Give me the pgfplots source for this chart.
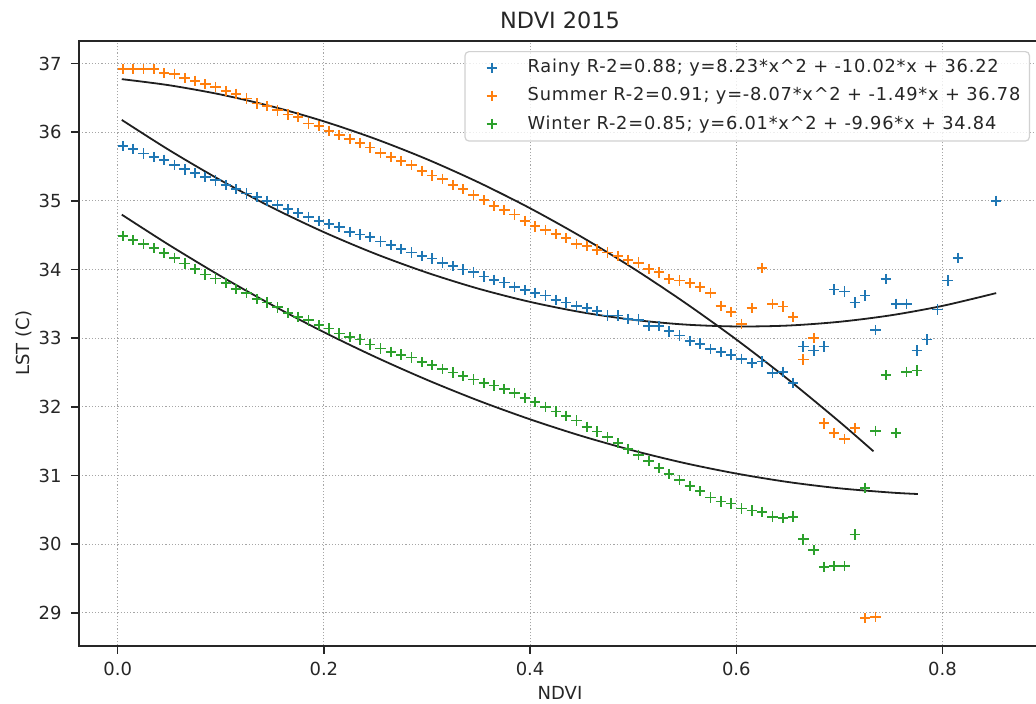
\documentclass[border=0pt]{standalone}
\usepackage{fontspec}
\setmainfont{DejaVu Sans}
\newfontfamily\legendfont{DejaVu Sans}[LetterSpace=4.3]
\usepackage{pgfplots}
\usepackage{pgfplotstable}
\pgfplotsset{compat=1.18}
\definecolor{tabblue}{HTML}{1F77B4}
\definecolor{taborange}{HTML}{FF7F0E}
\definecolor{tabgreen}{HTML}{2CA02C}

% rainy season: mean LST per NDVI bin
\pgfplotstableread{
x y
0.005 35.80
0.015 35.76
0.025 35.69
0.035 35.64
0.045 35.60
0.055 35.52
0.065 35.46
0.075 35.41
0.085 35.35
0.095 35.30
0.105 35.23
0.115 35.17
0.125 35.11
0.135 35.06
0.145 35.00
0.155 34.94
0.165 34.88
0.175 34.82
0.185 34.77
0.195 34.71
0.205 34.66
0.215 34.62
0.225 34.55
0.235 34.51
0.245 34.47
0.255 34.41
0.265 34.36
0.275 34.30
0.285 34.25
0.295 34.20
0.305 34.16
0.315 34.10
0.325 34.05
0.335 34.00
0.345 33.96
0.355 33.90
0.365 33.85
0.375 33.81
0.385 33.75
0.395 33.70
0.405 33.66
0.415 33.62
0.425 33.56
0.435 33.52
0.445 33.47
0.455 33.44
0.465 33.40
0.475 33.33
0.485 33.33
0.495 33.28
0.505 33.27
0.515 33.18
0.525 33.18
0.535 33.10
0.545 33.04
0.555 32.96
0.565 32.92
0.575 32.84
0.585 32.80
0.595 32.76
0.605 32.70
0.615 32.64
0.625 32.66
0.635 32.49
0.645 32.51
0.655 32.35
0.665 32.88
0.675 32.82
0.685 32.88
0.695 33.71
0.705 33.68
0.715 33.52
0.725 33.62
0.735 33.12
0.745 33.86
0.755 33.50
0.765 33.50
0.775 32.82
0.785 32.98
0.795 33.42
0.805 33.84
0.815 34.17
0.852 35.00
}\rainy

% summer
\pgfplotstableread{
x y
0.005 36.92
0.015 36.92
0.025 36.92
0.035 36.92
0.045 36.86
0.055 36.85
0.065 36.79
0.075 36.75
0.085 36.70
0.095 36.66
0.105 36.60
0.115 36.56
0.125 36.49
0.135 36.42
0.145 36.38
0.155 36.32
0.165 36.26
0.175 36.22
0.185 36.13
0.195 36.09
0.205 36.02
0.215 35.96
0.225 35.90
0.235 35.84
0.245 35.78
0.255 35.70
0.265 35.64
0.275 35.58
0.285 35.52
0.295 35.44
0.305 35.37
0.315 35.32
0.325 35.23
0.335 35.17
0.345 35.09
0.355 35.01
0.365 34.93
0.375 34.87
0.385 34.80
0.395 34.71
0.405 34.63
0.415 34.58
0.425 34.52
0.435 34.46
0.445 34.37
0.455 34.34
0.465 34.29
0.475 34.25
0.485 34.20
0.495 34.14
0.505 34.10
0.515 34.01
0.525 33.96
0.535 33.86
0.545 33.84
0.555 33.80
0.565 33.75
0.575 33.66
0.585 33.47
0.595 33.38
0.605 33.21
0.615 33.44
0.625 34.02
0.635 33.50
0.645 33.46
0.655 33.31
0.665 32.69
0.675 33.00
0.685 31.76
0.695 31.62
0.705 31.53
0.715 31.69
0.725 28.92
0.735 28.94
}\summer

% winter
\pgfplotstableread{
x y
0.005 34.49
0.015 34.43
0.025 34.37
0.035 34.31
0.045 34.24
0.055 34.17
0.065 34.09
0.075 34.01
0.085 33.93
0.095 33.87
0.105 33.80
0.115 33.72
0.125 33.66
0.135 33.57
0.145 33.52
0.155 33.45
0.165 33.37
0.175 33.31
0.185 33.26
0.195 33.19
0.205 33.14
0.215 33.07
0.225 33.02
0.235 32.98
0.245 32.91
0.255 32.85
0.265 32.80
0.275 32.76
0.285 32.72
0.295 32.65
0.305 32.61
0.315 32.55
0.325 32.50
0.335 32.45
0.345 32.40
0.355 32.35
0.365 32.31
0.375 32.26
0.385 32.20
0.395 32.13
0.405 32.07
0.415 32.00
0.425 31.93
0.435 31.87
0.445 31.80
0.455 31.71
0.465 31.64
0.475 31.56
0.485 31.47
0.495 31.39
0.505 31.30
0.515 31.21
0.525 31.11
0.535 31.02
0.545 30.93
0.555 30.85
0.565 30.77
0.575 30.68
0.585 30.62
0.595 30.59
0.605 30.52
0.615 30.49
0.625 30.47
0.635 30.40
0.645 30.38
0.655 30.40
0.665 30.07
0.675 29.91
0.685 29.67
0.695 29.68
0.705 29.68
0.715 30.14
0.725 30.82
0.735 31.65
0.745 32.46
0.755 31.62
0.765 32.51
0.775 32.53
}\winter

% fitted quadratics, values worked out from the legend equations
\pgfplotstableread{
x y
0.004 36.180
0.05 35.740
0.10 35.300
0.15 34.902
0.20 34.545
0.25 34.229
0.30 33.955
0.35 33.721
0.40 33.529
0.45 33.378
0.50 33.268
0.55 33.199
0.60 33.171
0.65 33.184
0.70 33.239
0.75 33.334
0.80 33.471
0.852 33.657
}\rainyfit
\pgfplotstableread{
x y
0.004 36.774
0.05 36.685
0.10 36.550
0.15 36.375
0.20 36.159
0.25 35.903
0.30 35.607
0.35 35.270
0.40 34.893
0.45 34.475
0.50 34.018
0.55 33.519
0.60 32.981
0.65 32.402
0.70 31.783
0.733 31.352
}\summerfit
\pgfplotstableread{
x y
0.004 34.800
0.05 34.357
0.10 33.904
0.15 33.481
0.20 33.088
0.25 32.726
0.30 32.393
0.35 32.090
0.40 31.818
0.45 31.575
0.50 31.363
0.55 31.180
0.60 31.028
0.65 30.905
0.70 30.813
0.75 30.751
0.776 30.730
}\winterfit

\begin{document}
\begin{tikzpicture}
% page frame; the right spine falls just outside it, as in the original crop
\useasboundingbox (-39.5pt,-29.15pt) rectangle (478.5pt,322.85pt);
\begin{axis}[
  at={(0pt,0pt)}, anchor=south west,
  scale only axis,
  width=481pt, height=302.35pt,
  xmin=-0.0375, xmax=0.8955,
  ymin=28.52, ymax=37.33,
  xtick={0,0.2,0.4,0.6,0.8},
  xticklabels={0.0,0.2,0.4,0.6,0.8},
  ytick={29,30,31,32,33,34,35,36,37},
  tick pos=left,
  tick align=outside,
  major tick length=4pt,
  tick style={black!85, line width=0.8pt},
  axis line style={black!85, line width=0.9pt},
  grid=major,
  grid style={black!35, line width=0.5pt, dash pattern=on 0.6pt off 1pt},
  /pgf/number format/assume math mode=true,
  ticklabel style={font=\fontsize{9}{10}\selectfont, text=black!85},
  xticklabel style={inner sep=0pt, anchor=north, yshift=-4pt},
  yticklabel style={inner sep=0pt, anchor=east, xshift=-4.5pt},
  title={NDVI 2015},
  every axis title/.style={at={(axis description cs:0.5,1)}, anchor=base, yshift=6.35pt,
               inner sep=0pt, font=\fontsize{11.2}{13}\selectfont, text=black!85},
  xlabel={NDVI},
  xlabel style={at={(axis description cs:0.5,0)}, anchor=base, yshift=-27.15pt,
                inner sep=0pt, font=\fontsize{9}{10}\selectfont, text=black!85},
  ylabel={LST (C)},
  ylabel style={at={(axis description cs:0,0.5)}, anchor=base, yshift=24.5pt,
                inner sep=0pt, font=\fontsize{9}{10}\selectfont, text=black!85},
  legend cell align=left,
  legend image code/.code={\path (0pt,0pt) (26pt,0pt); \draw[#1] plot coordinates {(13pt,0.2pt)};},
  legend style={at={(0.9886,0.9834)}, anchor=north east,
                draw=black!18, line width=0.6pt, rounded corners=2pt,
                fill=white, fill opacity=0.8, draw opacity=1, text opacity=1,
                font=\fontsize{8.9}{10}\legendfont, text=black!85,
                inner xsep=0pt, inner ysep=1.2pt, row sep=0pt,
                nodes={inner xsep=4.5pt, inner ysep=2.3pt, text height=7pt, text depth=2.5pt}},
  every axis plot/.append style={line width=0.85pt},
]
\addplot[only marks, mark=+, mark size=2.6pt, tabblue] table {\rainy};
\addlegendentry{Rainy R-2=0.88; y=8.23*x\textasciicircum 2 + -10.02*x + 36.22}
\addplot[black!88, line width=0.9pt, smooth, forget plot] table {\rainyfit};
\addplot[only marks, mark=+, mark size=2.6pt, taborange] table {\summer};
\addlegendentry{Summer R-2=0.91; y=-8.07*x\textasciicircum 2 + -1.49*x + 36.78}
\addplot[black!88, line width=0.9pt, smooth, forget plot] table {\summerfit};
\addplot[only marks, mark=+, mark size=2.6pt, tabgreen] table {\winter};
\addlegendentry{Winter R-2=0.85; y=6.01*x\textasciicircum 2 + -9.96*x + 34.84}
\addplot[black!88, line width=0.9pt, smooth, forget plot] table {\winterfit};
\end{axis}
\end{tikzpicture}
\end{document}
